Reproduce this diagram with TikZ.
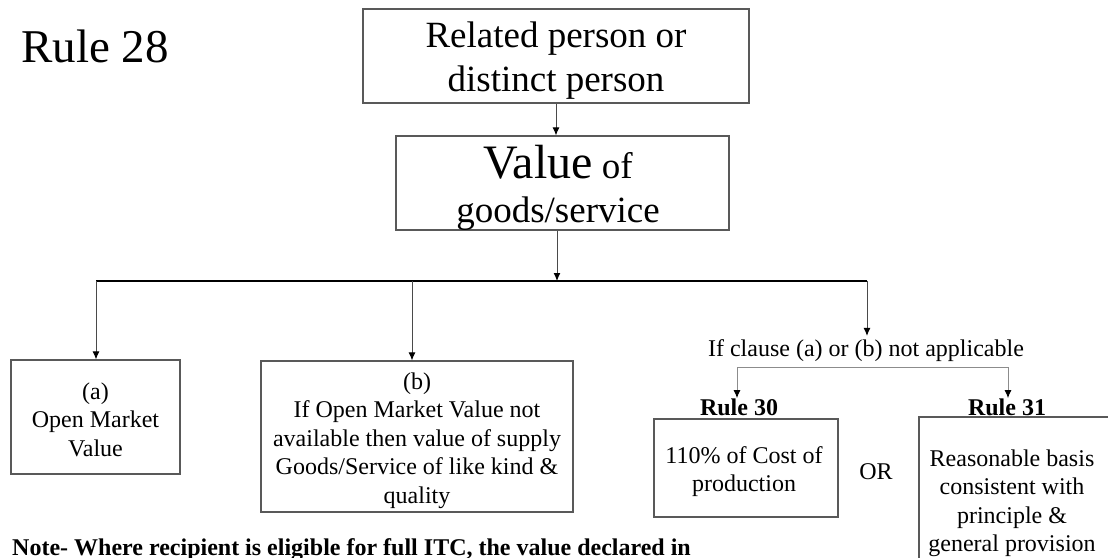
\documentclass[tikz,border=0pt]{standalone}
\usepackage{fontspec}
\setmainfont{Liberation Serif}
\usetikzlibrary{arrows.meta}
\newcommand\setfs[2]{\fontsize{#1pt}{#2pt}\selectfont}
\newcommand\stack[1]{\begin{tabular}[t]{@{}c@{}}#1\end{tabular}}
\definecolor{boxline}{HTML}{595959}
\definecolor{linkgray}{HTML}{4A4A4A}
\definecolor{sublink}{HTML}{8C8C8C}
\begin{document}
\begin{tikzpicture}[x=1pt,y=-1pt,
  box/.style={draw=boxline, line width=1.2pt, inner sep=0pt},
  txt/.style={inner sep=0pt, anchor=base, font=\setfs{24}{28.5}},
  conn/.style={draw=linkgray, line width=1pt},
  sub/.style={draw=sublink, line width=1pt},
  tip/.style={-{Latex[length=8pt,width=7pt,color=black]}}]
\clip (0,0) rectangle (1108,557);
\fill[white] (0,0) rectangle (1108,557);

% boxes
\node[box, minimum width=386pt, minimum height=94pt] (top) at (556,56) {};
\node[box, minimum width=333pt, minimum height=94pt] (val) at (562.5,183) {};
\node[box, minimum width=169pt, minimum height=114pt] (boxa) at (95.5,417) {};
\node[box, minimum width=312pt, minimum height=151pt] (boxb) at (417,436.5) {};
\node[box, minimum width=184pt, minimum height=98pt] (r30) at (746,468) {};
\node[box, minimum width=200pt, minimum height=170pt] (r31) at (1019,502) {};

% texts
\node[txt, font=\setfs{47}{56}, anchor=base west] (title) at (21,62) {Rule 28};
\node[txt, font=\setfs{37}{44}] (topt) at (556,47) {\stack{Related person or\\distinct person}};
\node[txt, font=\setfs{37}{44}] (valt) at (558,178)
  {\stack{{\setfs{48}{44}Value} of\\goods/service}};
\node[txt] (at) at (95.5,399) {\stack{(a)\\Open Market\\Value}};
\node[txt] (bt) at (417,389) {\stack{(b)\\If Open Market Value not\\available then value of supply\\Goods/Service of like kind \&\\quality}};
\node[txt] (ifc) at (866,356) {If clause (a) or (b) not applicable};
\node[txt, font=\bfseries\setfs{24}{28.5}] (r30l) at (739,415) {Rule 30};
\node[txt, font=\bfseries\setfs{24}{28.5}] (r31l) at (1007,415) {Rule 31};
\node[txt] (r30t) at (744,463) {\stack{110\% of Cost of\\production}};
\node[txt] (r31t) at (1012,466) {\stack{Reasonable basis\\consistent with\\principle \&\\general provision}};
\node[txt] (or) at (876,479) {OR};
\node[txt, anchor=base west, font=\bfseries\setfs{24}{28}] (note) at (12,555)
  {Note- Where recipient is eligible for full ITC, the value declared in};

% connectors
\draw[conn, tip] (top.south) -- (top.south |- val.north);
\coordinate (hub) at (557,281);
\coordinate (hl) at (96,281);
\coordinate (hb) at (412,281);
\coordinate (hr) at (867,281);
\draw[conn, tip] (hub |- val.south) -- (hub);
\draw[black, line width=1.5pt] (hl) -- (hr);
\draw[conn, tip] (hl) -- (hl |- boxa.north);
\draw[conn, tip] (hb) -- (hb |- boxb.north);
\draw[conn, tip] (hr) -- ([yshift=3pt]hr |- ifc.north);

\coordinate (sl) at (737,367);
\coordinate (sr) at (1008,367);
\draw[sub, tip] (sr) -- (sl) -- (sl |- r30l.north);
\draw[sub, tip] (sr) -- (sr |- r31l.north);
\end{tikzpicture}
\end{document}
